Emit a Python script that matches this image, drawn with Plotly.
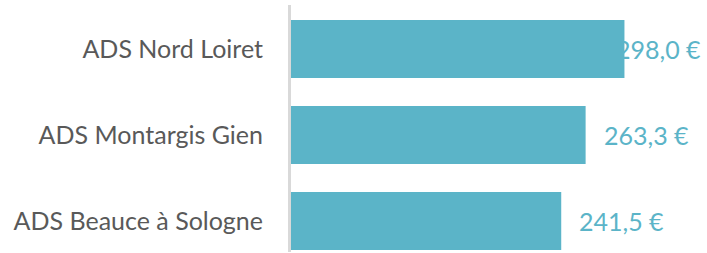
import plotly.graph_objects as go

categories = ["ADS Nord Loiret", "ADS Montargis Gien", "ADS Beauce à Sologne"]
values = [298.0, 263.3, 241.5]
labels = ["298,0 €", "263,3 €", "241,5 €"]

BAR = "#5BB4C8"
W, H = 707, 253
ML, MR, MT, MB = 291, 4, 5, 1
XMAX = 368.2
plot_w = W - ML - MR
scale = plot_w / XMAX
LABEL_W = 84
GAP = 16

fig = go.Figure(go.Bar(
    x=values, y=categories, orientation="h",
    marker=dict(color=BAR, line=dict(width=0)),
    width=0.674, hoverinfo="skip",
))

for v, c, t in zip(values, categories, labels):
    if v * scale + GAP + LABEL_W > plot_w:
        fig.add_annotation(x=1, xref="paper", y=c, yref="y", text=t, showarrow=False,
                           xanchor="right", font=dict(color=BAR, size=25, family="Lato"))
    else:
        fig.add_annotation(x=v, y=c, text=t, showarrow=False, xanchor="left", xshift=GAP,
                           font=dict(color=BAR, size=25, family="Lato"))

fig.update_layout(
    width=W, height=H, margin=dict(l=ML, r=MR, t=MT, b=MB, autoexpand=False),
    paper_bgcolor="white", plot_bgcolor="white", showlegend=False,
    xaxis=dict(range=[0, XMAX], visible=False, fixedrange=True, automargin=False),
    yaxis=dict(categoryorder="array", categoryarray=categories, range=[2.36, -0.512],
               autorange=False, automargin=False, showline=True, linecolor="#D9D9D9", linewidth=3,
               showgrid=False, ticks="", ticklabelstandoff=20,
               tickfont=dict(color="#595959", size=25, family="Lato")),
)
fig.write_html("out.html", config={"displayModeBar": False},
               post_script="document.body.style.margin='0';document.body.style.overflow='hidden';")
